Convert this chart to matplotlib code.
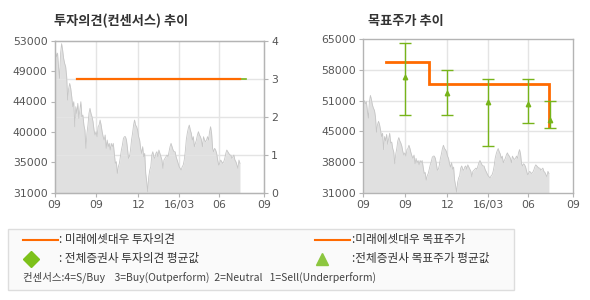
import numpy as np
import matplotlib
matplotlib.use("Agg")
import matplotlib.pyplot as plt
from matplotlib.patches import Rectangle

KR = ['Noto Sans CJK KR', 'DejaVu Sans']

# ---------------- data ----------------
price = [50900, 51400, 50700, 51200, 49200, 47550, 51200, 52570, 51650, 50440,
         49720, 49240, 47790, 44410, 46100, 46820, 46100, 44900, 43450, 44170,
         40550, 43450, 42480, 43930, 41760, 42970, 44170, 42000, 42240, 40790,
         40070, 37420, 39590, 40790, 42480, 43210, 42480, 42000, 41280, 40070,
         39350, 39830, 39110, 40550, 40790, 41520, 40790, 39830, 39110, 38620,
         39350, 37420, 38620, 37660, 38140, 37180, 38140, 37660, 38140, 36690,
         35250, 35490, 33800, 34760, 35250, 36210, 37180, 37900, 38860, 39110,
         39110, 38620, 37420, 35970, 36210, 37180, 38620, 39590, 40790, 41520,
         40790, 40550, 40070, 39110, 38620, 37420, 36690, 37660, 36210, 36690,
         33800, 32590, 31140, 33320, 34280, 34760, 36450, 36930, 36210, 35970,
         36690, 36930, 36210, 37180, 36690, 36210, 35730, 34520, 35730, 35970,
         36210, 36450, 36210, 36930, 37660, 38140, 37660, 37180, 36930, 36930,
         36210, 35730, 35250, 34760, 34520, 34280, 34760, 35000, 35730, 36930,
         38620, 39590, 40310, 40790, 40070, 39590, 38620, 39110, 37660, 38140,
         38620, 39350, 39830, 39350, 39110, 38620, 37660, 39110, 38620, 38380,
         38620, 39110, 38620, 39830, 40550, 39590, 37420, 36930, 37420, 37180,
         36690, 35730, 35000, 35250, 35730, 35490, 35250, 35490, 35970, 36690,
         37180, 36930, 36690, 36450, 36450, 35970, 36210, 36450, 35730, 35490,
         35000, 34520, 35730, 35250]
price_end = 13.26  # months from axis start where the price series ends

tick_pos = [0, 3.0, 6.0, 8.93, 11.79, 15.0]
tick_labels = ['09', '09', '12', '16/03', '06', '09']

# investment opinion (left)
opinion_x = [1.64, 13.26]
opinion_val = [3, 3]
consensus_x = [1.64, 13.69]
consensus_val = [3, 3]

left_yticks = ['31000', '35000', '40000', '44000', '49000', '53000']
right_yticks = ['31000', '38000', '45000', '51000', '58000', '65000']

# target price (right)
target_x = [1.62, 4.69, 4.69, 13.29, 13.29]
target_val = [60000, 60000, 55000, 55000, 45500]
avg_x = [3.0, 6.0, 8.93, 11.79, 13.36]
avg_mean = [56600, 53100, 51100, 50660, 47100]
avg_high = [64100, 58100, 56100, 56100, 51250]
avg_low = [48150, 48150, 41350, 46450, 45300]

ORANGE = '#ff6a00'
GREEN = '#77b41a'
FILL = '#e0e0e0'
EDGE = '#c6c6c6'
GRID = '#e4e4e4'
SPINE = '#b4b4b4'
TXT = '#555555'
TSIZE = 7.8

fig = plt.figure(figsize=(5.9, 3.0), dpi=100)
fig.patch.set_facecolor('white')

px = np.linspace(0, price_end, len(price))


def style(ax):
    for s in ax.spines.values():
        s.set_color(SPINE)
        s.set_linewidth(1.0)
    ax.set_xlim(0, 15)
    ax.set_xticks(tick_pos)
    ax.set_xticklabels(tick_labels)
    ax.tick_params(axis='both', colors=SPINE, labelcolor=TXT, labelsize=TSIZE,
                   length=3, width=0.8, pad=2)
    for x in tick_pos[1:-1]:
        ax.axvline(x, color=GRID, lw=1.0, zorder=0.5)


# ---------------- left chart ----------------
axL = fig.add_axes([54.5 / 590, 1 - 192.7 / 300, 209.8 / 590, 152 / 300])
style(axL)
axL.set_ylim(31000, 53000)
axL.set_yticks(np.linspace(31000, 53000, 6))
axL.set_yticklabels(left_yticks)
axL.fill_between(px, 31000, price, color=FILL, lw=0, zorder=1)
axL.plot(px, price, color=EDGE, lw=0.6, zorder=1.2)
axR2 = axL.twinx()
axR2.set_ylim(0, 4)
axR2.set_yticks([0, 1, 2, 3, 4])
axR2.tick_params(axis='y', colors=SPINE, labelcolor=TXT, labelsize=TSIZE,
                 length=3, width=0.8, pad=2)
for s in axR2.spines.values():
    s.set_color(SPINE)
for yv in [1, 2, 3]:
    axL.axhline(31000 + yv * 5500, color=GRID, lw=1.0, zorder=1.1)
axR2.plot(consensus_x, consensus_val, color=GREEN, lw=1.2, zorder=3)
axR2.plot(opinion_x, opinion_val, color=ORANGE, lw=1.6, zorder=4)
fig.text(54 / 590, 1 - 21 / 300, '투자의견(컨센서스) 추이', family=KR,
         fontsize=9.5, fontweight='bold', color='#333333', va='center')

# ---------------- right chart ----------------
axR = fig.add_axes([363.3 / 590, 1 - 192.7 / 300, 210 / 590, 153.4 / 300])
style(axR)
axR.set_ylim(31000, 65000)
yt = np.linspace(31000, 65000, 6)
axR.set_yticks(yt)
axR.set_yticklabels(right_yticks)
for yv in yt[1:-1]:
    axR.axhline(yv, color=GRID, lw=1.0, zorder=0.5)
axR.fill_between(px, 31000, price, color=FILL, lw=0, zorder=1)
axR.plot(px, price, color=EDGE, lw=0.6, zorder=1.2)
axR.plot(target_x, target_val, color=ORANGE, lw=2.0, zorder=3,
         solid_joinstyle='miter')
err = [np.array(avg_mean) - np.array(avg_low), np.array(avg_high) - np.array(avg_mean)]
axR.errorbar(avg_x, avg_mean, yerr=err, fmt='none', ecolor=GREEN,
             elinewidth=1.0, capsize=4.2, capthick=1.0, zorder=4)
axR.plot(avg_x, avg_mean, ls='none', marker='^', ms=3.2, color=GREEN,
         mec=GREEN, zorder=5)
fig.text(368 / 590, 1 - 21 / 300, '목표주가 추이', family=KR,
         fontsize=9.5, fontweight='bold', color='#333333', va='center')

# ---------------- legend box ----------------
lax = fig.add_axes([0, 0, 1, 1], facecolor='none')
lax.set_xlim(0, 590)
lax.set_ylim(300, 0)
lax.axis('off')
lax.add_patch(Rectangle((7.5, 228.5), 506, 61, facecolor='#fafafa',
                        edgecolor='#dddddd', lw=1.0))
LS = 8.4
lax.plot([22.7, 57.7], [240, 240], color=ORANGE, lw=1.5)
lax.text(59, 240, ': 미래에셋대우 투자의견', family=KR, fontsize=LS,
         color='#333333', va='center')
lax.plot([315, 350], [240, 240], color=ORANGE, lw=1.5)
lax.text(352, 240, ':미래에셋대우 목표주가', family=KR, fontsize=LS,
         color='#333333', va='center')
lax.plot([30.7], [258.5], marker='D', ms=8, color='#7dc11a', ls='none')
lax.text(59, 258.5, ': 전체증권사 투자의견 평균값', family=KR, fontsize=LS,
         color='#333333', va='center')
lax.plot([321.7], [258.5], marker='^', ms=8.5, color='#8cc63f', ls='none')
lax.text(352, 258.5, ':전체증권사 목표주가 평균값', family=KR, fontsize=LS,
         color='#333333', va='center')
lax.text(23, 277, '컨센서스:4=S/Buy    3=Buy(Outperform)  2=Neutral   1=Sell(Underperform)',
         family=KR, fontsize=7.5, color='#444444', va='center')

fig.savefig('out.png', dpi=100)
